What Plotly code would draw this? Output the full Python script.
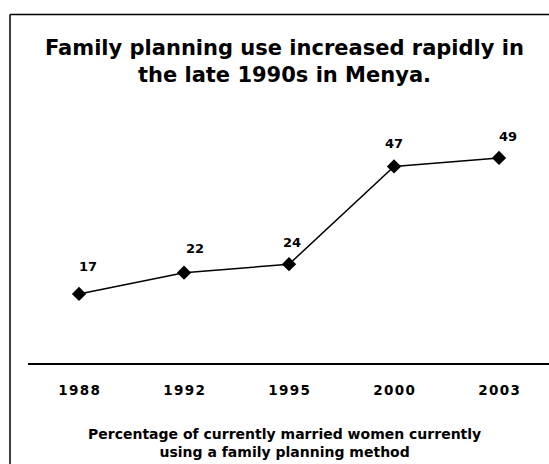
import plotly.graph_objects as go

years = ["1988", "1992", "1995", "2000", "2003"]
values = [17, 22, 24, 47, 49]
title_text = "Family planning use increased rapidly in<br>the late 1990s in Menya."
caption_text = "Percentage of currently married women currently<br>using a family planning method"

# per-label nudges (pixels) for the value labels, style only
label_dx = [9, 11, 3, 0, 9]
label_dy = [27, 24, 22, 23, 21]

FONT_WIDE = "DejaVu Sans, sans-serif"

W, H = 549, 464
ml, mr, mt, mb = 28, 0, 107, 101
pw = W - ml - mr
ph = H - mt - mb

def px_x(x):
    return (x - ml) / pw

def px_y(y):
    return (H - mb - y) / ph

fig = go.Figure()
fig.add_trace(go.Scatter(
    x=list(range(len(years))), y=values, mode="lines+markers",
    line=dict(color="black", width=1.5),
    marker=dict(symbol="diamond", size=11, color="black"),
    hoverinfo="skip", showlegend=False,
))

for i, v in enumerate(values):
    fig.add_annotation(x=i, y=v, text=str(v), showarrow=False,
                       xshift=label_dx[i], yshift=label_dy[i],
                       font=dict(family=FONT_WIDE, size=13, color="black", weight="bold"))

fig.add_annotation(xref="paper", yref="paper", x=px_x(284), y=px_y(61),
                   text=title_text, showarrow=False, xanchor="center", yanchor="middle",
                   font=dict(family=FONT_WIDE, size=21, color="black", weight="bold"))
fig.add_annotation(xref="paper", yref="paper", x=px_x(284), y=px_y(443),
                   text=caption_text, showarrow=False, xanchor="center", yanchor="middle",
                   font=dict(family=FONT_WIDE, size=14, color="black", weight="bold"))

# frame (top and left border)
fig.add_shape(type="line", xref="paper", yref="paper", x0=px_x(10), x1=px_x(549),
              y0=px_y(14.5), y1=px_y(14.5), line=dict(color="black", width=1.5))
fig.add_shape(type="line", xref="paper", yref="paper", x0=px_x(10), x1=px_x(10),
              y0=px_y(14.5), y1=px_y(464), line=dict(color="black", width=1.5))

fig.update_layout(
    width=W, height=H,
    margin=dict(l=ml, r=mr, t=mt, b=mb),
    paper_bgcolor="white", plot_bgcolor="white",
    xaxis=dict(range=[-0.486, 4.476], showgrid=False, zeroline=False,
               showline=True, linecolor="black", linewidth=2,
               ticks="", tickvals=list(range(len(years))),
               ticktext=["\u200a".join(y) for y in years],
               ticklabelstandoff=14,
               tickfont=dict(family=FONT_WIDE, size=13.5, color="black", weight="bold")),
    yaxis=dict(range=[0.76, 60.99], visible=False, showgrid=False, zeroline=False),
)

fig.write_html("out.html", config={"displayModeBar": False},
               post_script="document.body.style.margin='0px';")
